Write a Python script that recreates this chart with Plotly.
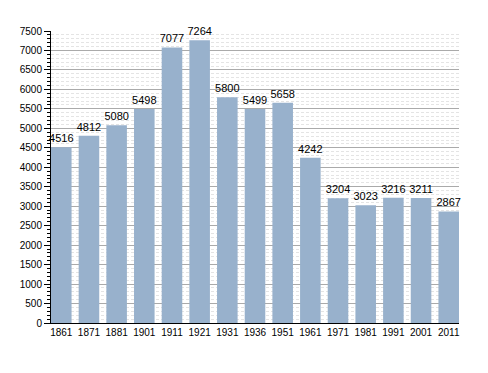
import plotly.graph_objects as go

years = ["1861", "1871", "1881", "1901", "1911", "1921", "1931", "1936",
         "1951", "1961", "1971", "1981", "1991", "2001", "2011"]
population = [4516, 4812, 5080, 5498, 7077, 7264, 5800, 5499,
              5658, 4242, 3204, 3023, 3216, 3211, 2867]

xpos = list(range(len(years)))
bargap = 0.257
half = (1 - bargap) / 2

fig = go.Figure(go.Bar(
    x=xpos, y=population,
    text=[str(v) for v in population],
    textposition="outside",
    constraintext="none",
    textfont=dict(size=11, color="black", family="Liberation Sans"),
    marker=dict(color="#98B1CC", line=dict(width=0)),
    cliponaxis=False,
))

fig.update_layout(
    width=480, height=365,
    margin=dict(l=43, r=29, t=23, b=50),
    paper_bgcolor="white", plot_bgcolor="white",
    bargap=bargap,
    showlegend=False,
    font=dict(family="Liberation Sans", size=10, color="black"),
)
fig.update_xaxes(
    range=[-half, len(years) - 1 + half],
    tickmode="array", tickvals=xpos, ticktext=years,
    showgrid=False, zeroline=False,
    showline=True, linecolor="black", linewidth=1,
    ticks="", tickfont=dict(size=10),
)
fig.update_yaxes(
    range=[0, 7500], dtick=500, tick0=0,
    showgrid=True, gridcolor="#aaaaaa", gridwidth=1,
    zeroline=False,
    showline=True, linecolor="black", linewidth=1,
    ticks="outside", ticklen=6, tickcolor="black", tickwidth=1,
    tickfont=dict(size=10),
    minor=dict(dtick=100, showgrid=True, gridcolor="#e4e4e4", griddash="3px,2px",
               ticks="outside", ticklen=3, tickcolor="black", tickwidth=1),
)

fig.write_html("out.html")
